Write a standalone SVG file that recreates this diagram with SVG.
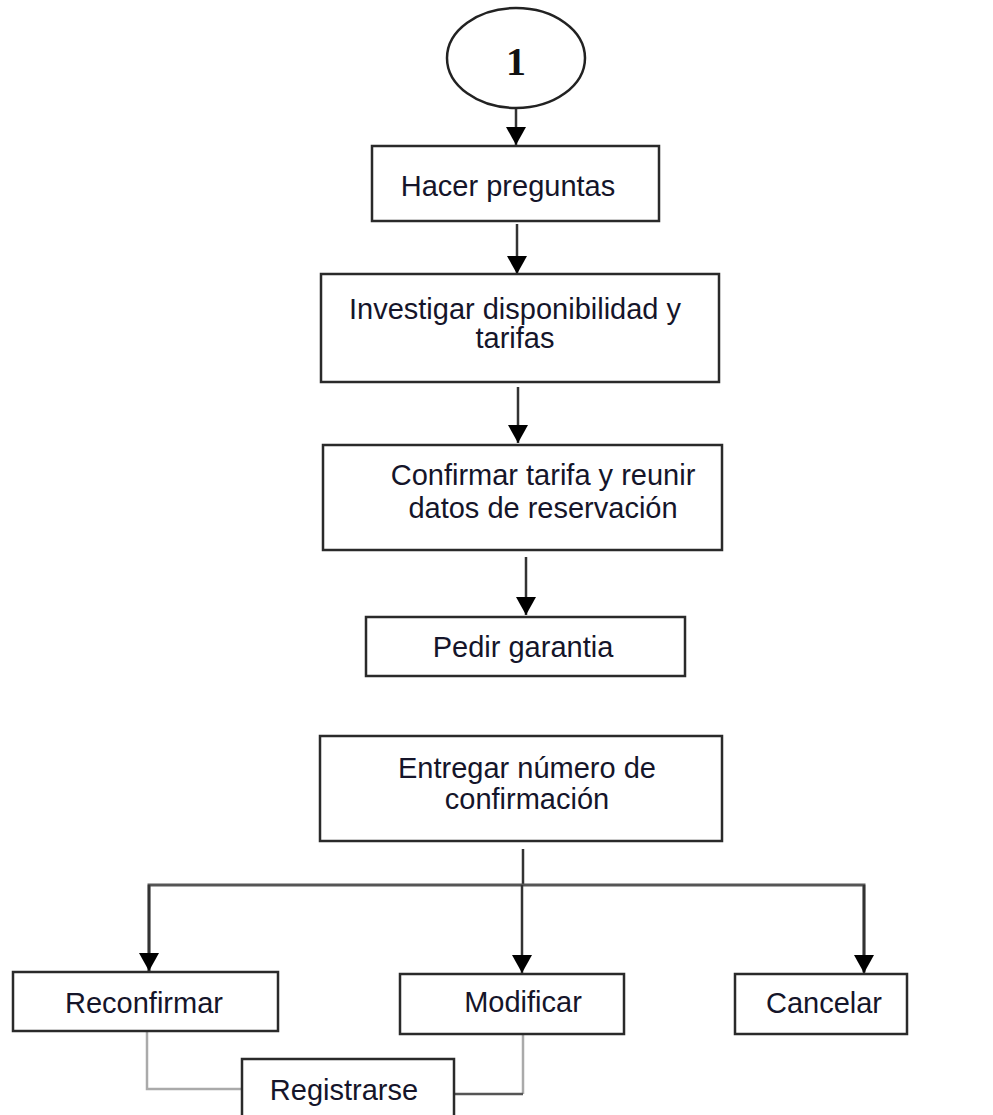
<svg xmlns="http://www.w3.org/2000/svg" width="993" height="1115" viewBox="0 0 993 1115">
  <style>
    .box { fill: #ffffff; stroke: #2a2a2a; stroke-width: 2.5; }
    .lbl { font-family: "Liberation Sans", Arial, sans-serif; font-size: 29px; fill: #15152a; text-anchor: middle; }
    .num { font-family: "Liberation Serif", "Times New Roman", serif; font-size: 40px; font-weight: bold; fill: #111; text-anchor: middle; }
    .flow { fill: none; stroke: #333333; stroke-width: 2.5; }
    .branch { fill: none; stroke: #555555; stroke-width: 3; }
    .soft { fill: none; stroke: #aaaaaa; stroke-width: 2.5; }
    .mid { fill: none; stroke: #555555; stroke-width: 2.5; }
  </style>
  <defs>
    <marker id="head" viewBox="0 0 18 20" markerWidth="18" markerHeight="20" markerUnits="userSpaceOnUse" refX="18" refY="10" orient="auto">
      <path d="M0,0 L18,10 L0,20 z" fill="#000"/>
    </marker>
  </defs>
  <rect width="993" height="1115" fill="#ffffff"/>

  <g id="connectors">
    <line class="flow" x1="516" y1="108" x2="516" y2="145" marker-end="url(#head)"/>
    <line class="flow" x1="517" y1="224" x2="517" y2="274" marker-end="url(#head)"/>
    <line class="flow" x1="518" y1="387" x2="518" y2="443" marker-end="url(#head)"/>
    <line class="flow" x1="526" y1="557" x2="526" y2="615" marker-end="url(#head)"/>
    <line class="flow" x1="523" y1="849" x2="523" y2="885"/>
    <polyline class="branch" points="149,972 149,885 864,885 864,972"/>
    <line class="flow" x1="149" y1="885" x2="149" y2="971" marker-end="url(#head)"/>
    <line class="flow" x1="864" y1="885" x2="864" y2="973" marker-end="url(#head)"/>
    <line class="flow" x1="522" y1="885" x2="522" y2="973" marker-end="url(#head)"/>
    <polyline class="soft" points="147,1032 147,1089 242,1089"/>
    <line class="soft" x1="523" y1="1035" x2="523" y2="1094"/>
    <line class="mid" x1="454" y1="1094" x2="523" y2="1094"/>
  </g>

  <g id="start">
    <ellipse cx="516" cy="58" rx="69" ry="50" fill="#fff" stroke="#222" stroke-width="2.5"/>
    <text class="num" x="516" y="75">1</text>
  </g>

  <g id="hacer-preguntas">
    <rect class="box" x="372" y="146" width="287" height="75"/>
    <text class="lbl" x="508" y="196">Hacer preguntas</text>
  </g>

  <g id="investigar">
    <rect class="box" x="321" y="274" width="398" height="108"/>
    <text class="lbl" x="515" y="319">Investigar disponibilidad y</text>
    <text class="lbl" x="515" y="348">tarifas</text>
  </g>

  <g id="confirmar">
    <rect class="box" x="323" y="445" width="399" height="105"/>
    <text class="lbl" x="543" y="485">Confirmar tarifa y reunir</text>
    <text class="lbl" x="543" y="518">datos de reservación</text>
  </g>

  <g id="pedir-garantia">
    <rect class="box" x="366" y="617" width="319" height="59"/>
    <text class="lbl" x="523" y="657">Pedir garantia</text>
  </g>

  <g id="entregar">
    <rect class="box" x="320" y="736" width="402" height="105"/>
    <text class="lbl" x="527" y="778">Entregar número de</text>
    <text class="lbl" x="527" y="809">confirmación</text>
  </g>

  <g id="reconfirmar">
    <rect class="box" x="13" y="972" width="265" height="59"/>
    <text class="lbl" x="144" y="1013">Reconfirmar</text>
  </g>

  <g id="modificar">
    <rect class="box" x="400" y="974" width="224" height="60"/>
    <text class="lbl" x="523" y="1012">Modificar</text>
  </g>

  <g id="cancelar">
    <rect class="box" x="735" y="974" width="172" height="60"/>
    <text class="lbl" x="824" y="1013">Cancelar</text>
  </g>

  <g id="registrarse">
    <rect class="box" x="242" y="1059" width="212" height="70"/>
    <text class="lbl" x="344" y="1100">Registrarse</text>
  </g>
</svg>
